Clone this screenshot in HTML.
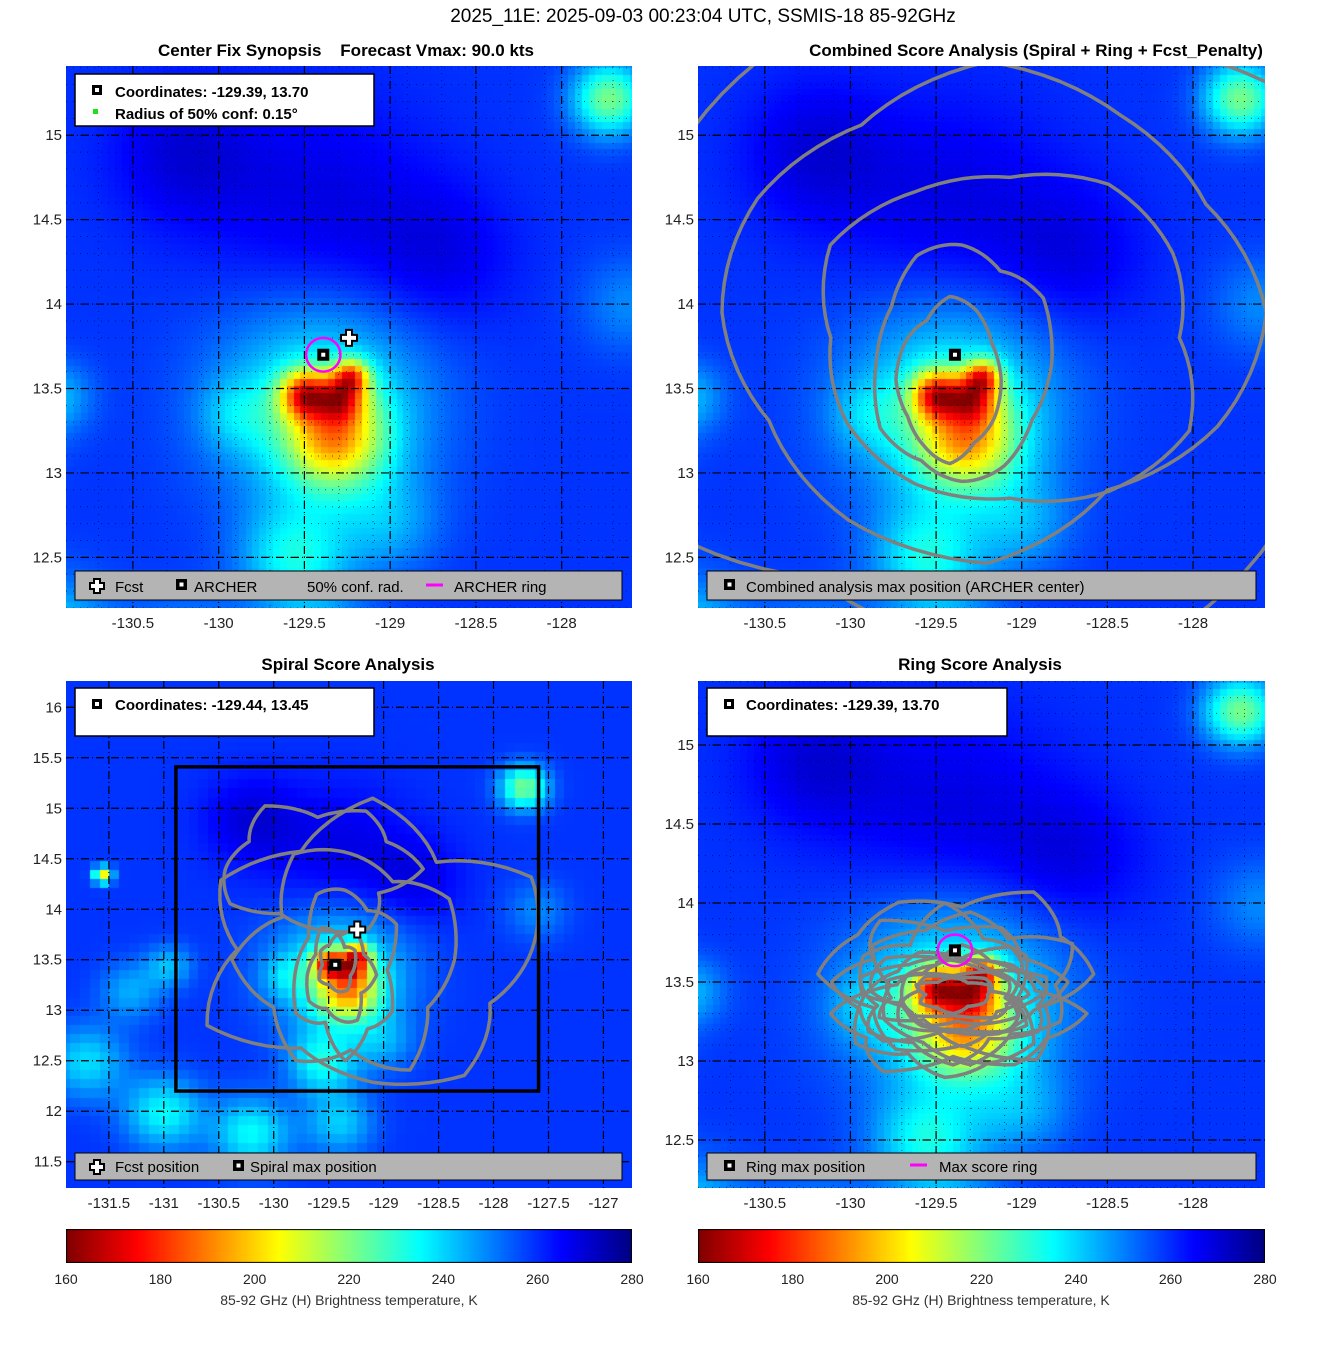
<!DOCTYPE html>
<html><head><meta charset="utf-8">
<style>
body{margin:0;background:#fff;width:1317px;height:1350px;overflow:hidden;position:relative;font-family:"Liberation Sans","DejaVu Sans",sans-serif;}
canvas{position:absolute;}
#ov{position:absolute;left:0;top:0;}
</style></head>
<body>
<canvas id="c1" style="left:66px;top:66px" width="566" height="542"></canvas>
<canvas id="c2" style="left:698px;top:66px" width="567" height="542"></canvas>
<canvas id="c3" style="left:66px;top:681px" width="566" height="507"></canvas>
<canvas id="c4" style="left:698px;top:681px" width="567" height="507"></canvas>
<canvas id="cb1" style="left:66px;top:1229px" width="566" height="34"></canvas>
<canvas id="cb2" style="left:698px;top:1229px" width="567" height="34"></canvas>
<svg id="ov" width="1317" height="1350" xmlns="http://www.w3.org/2000/svg" font-family="Liberation Sans, DejaVu Sans, sans-serif">
<text x="703" y="22" font-size="19" text-anchor="middle">2025_11E: 2025-09-03 00:23:04 UTC, SSMIS-18 85-92GHz</text>
<text x="346" y="56" font-size="17" font-weight="bold" text-anchor="middle" xml:space="preserve">Center Fix Synopsis    Forecast Vmax: 90.0 kts</text>
<text x="1036" y="56" font-size="17" font-weight="bold" text-anchor="middle">Combined Score Analysis (Spiral + Ring + Fcst_Penalty)</text>
<text x="348" y="670" font-size="17" font-weight="bold" text-anchor="middle">Spiral Score Analysis</text>
<text x="980" y="670" font-size="17" font-weight="bold" text-anchor="middle">Ring Score Analysis</text>
<g id="layer"></g>
<g id="legends">
 <g>
  <rect x="75" y="74" width="299" height="52" fill="#fff" stroke="#000" stroke-width="1.5"/>
  <rect x="92" y="85" width="10" height="10" fill="#000"/><rect x="95" y="88" width="4" height="4" fill="#fff"/>
  <text x="115" y="97" font-size="15" font-weight="bold">Coordinates: -129.39, 13.70</text>
  <rect x="93" y="109" width="5" height="5" fill="#1de01d"/>
  <text x="115" y="119" font-size="15" font-weight="bold">Radius of 50% conf: 0.15°</text>
 </g>
 <g>
  <rect x="75" y="571" width="547" height="29" fill="#b4b4b4" stroke="#000" stroke-width="1"/>
  <path d="M94 579h6v4h4v6h-4v4h-6v-4h-4v-6h4z" fill="#fff" stroke="#000" stroke-width="2"/>
  <text x="115" y="592" font-size="15">Fcst</text>
  <rect x="176" y="579" width="11" height="11" fill="#000"/><rect x="179.5" y="582.5" width="4" height="4" fill="#fff"/>
  <text x="194" y="592" font-size="15">ARCHER</text>
  <text x="307" y="592" font-size="15">50% conf. rad.</text>
  <line x1="426" y1="585" x2="443" y2="585" stroke="#ff00ff" stroke-width="3"/>
  <text x="454" y="592" font-size="15">ARCHER ring</text>
 </g>
 <g>
  <rect x="707" y="571" width="549" height="29" fill="#b4b4b4" stroke="#000" stroke-width="1"/>
  <rect x="724" y="579" width="11" height="11" fill="#000"/><rect x="727.5" y="582.5" width="4" height="4" fill="#fff"/>
  <text x="746" y="592" font-size="15">Combined analysis max position (ARCHER center)</text>
 </g>
 <g>
  <rect x="75" y="688" width="299" height="48" fill="#fff" stroke="#000" stroke-width="1.5"/>
  <rect x="92" y="699" width="10" height="10" fill="#000"/><rect x="95" y="702" width="4" height="4" fill="#fff"/>
  <text x="115" y="710" font-size="15" font-weight="bold">Coordinates: -129.44, 13.45</text>
 </g>
 <g>
  <rect x="75" y="1153" width="547" height="27" fill="#b4b4b4" stroke="#000" stroke-width="1"/>
  <path d="M94 1160h6v4h4v6h-4v4h-6v-4h-4v-6h4z" fill="#fff" stroke="#000" stroke-width="2"/>
  <text x="115" y="1172" font-size="15">Fcst position</text>
  <rect x="233" y="1160" width="11" height="11" fill="#000"/><rect x="236.5" y="1163.5" width="4" height="4" fill="#fff"/>
  <text x="250" y="1172" font-size="15">Spiral max position</text>
 </g>
 <g>
  <rect x="707" y="688" width="300" height="48" fill="#fff" stroke="#000" stroke-width="1.5"/>
  <rect x="724" y="699" width="10" height="10" fill="#000"/><rect x="727" y="702" width="4" height="4" fill="#fff"/>
  <text x="746" y="710" font-size="15" font-weight="bold">Coordinates: -129.39, 13.70</text>
 </g>
 <g>
  <rect x="707" y="1153" width="549" height="27" fill="#b4b4b4" stroke="#000" stroke-width="1"/>
  <rect x="724" y="1160" width="11" height="11" fill="#000"/><rect x="727.5" y="1163.5" width="4" height="4" fill="#fff"/>
  <text x="746" y="1172" font-size="15">Ring max position</text>
  <line x1="910" y1="1165" x2="927" y2="1165" stroke="#ff00ff" stroke-width="3"/>
  <text x="939" y="1172" font-size="15">Max score ring</text>
 </g>
</g>
<text x="349" y="1305" font-size="14" text-anchor="middle" fill="#333">85-92 GHz (H) Brightness temperature, K</text>
<text x="981" y="1305" font-size="14" text-anchor="middle" fill="#333">85-92 GHz (H) Brightness temperature, K</text>
</svg>
<script>
// ---- data ----
const blobLon = [-129.5,-129.28,-129.22,-129.32,-129.4,-129.9,-127.72,-129.55,-129.0,-130.95,-129.4,-130.2,-128.7,-131.55,-131.7,-131.0,-130.2,-129.4,-131.3,-127.6];
const blobLat = [13.47,13.45,13.58,13.2,13.4,13.35,15.22,12.5,12.7,13.45,14.6,14.9,14.3,14.35,12.5,12.0,11.8,11.9,13.2,14.0];
const blobR   = [0.1,0.1,0.07,0.2,0.42,0.15,0.15,0.22,0.2,0.15,0.45,0.3,0.3,0.06,0.25,0.25,0.25,0.22,0.2,0.2];
const blobAmp = [-52,-42,-42,-45,-28,-10,-38,-24,-12,-16,9,10,8,-55,-20,-24,-24,-18,-14,-10];
const baseTb = 259;
const cbTicks = [160,180,200,220,240,260,280];
const p1XTicks = [-130.5,-130,-129.5,-129,-128.5,-128];
const p1YTicks = [12.5,13,13.5,14,14.5,15];
const p3XTicks = [-131.5,-131,-130.5,-130,-129.5,-129,-128.5,-128,-127.5,-127];
const p3YTicks = [11.5,12,12.5,13,13.5,14,14.5,15,15.5,16];
const fcstPos = [-129.24,13.80];
const archerPos = [-129.39,13.70];
const spiralPos = [-129.44,13.45];
const ringRadius = 0.1;
// contour loops: centre lon, centre lat, rx, ry (deg) + radial wobble
const c2Lon = [-129.42,-129.35,-129.07,-129.2,-129.2];
const c2Lat = [13.55,13.65,13.8,13.95,13.9];
const c2Rx = [0.3,0.5,1.1,1.55,2.25];
const c2Ry = [0.45,0.7,1.0,1.35,1.95];
const wob2 = [1,0.95,1.05,1.1,0.9,1,1.05,0.95,1,1.1,0.95,1];
const c3Lon = [-129.42,-129.4,-129.35,-129.3,-129.1,-129.6];
const c3Lat = [13.45,13.35,13.4,13.5,13.6,14.4];
const c3Rx = [0.16,0.28,0.45,0.9,1.45,0.8];
const c3Ry = [0.25,0.45,0.75,1.05,1.25,0.6];
const wob3 = [1,1.15,0.8,1.2,0.9,1.1,0.85,1.2,0.9,1.05,1.15,0.85];
const c4Lon = [-129.4,-129.38,-129.42,-129.35,-129.4,-129.45,-129.35,-129.4,-129.3,-129.4,-129.45,-129.35];
const c4Lat = [13.42,13.38,13.4,13.45,13.35,13.5,13.4,13.42,13.48,13.3,13.4,13.55];
const c4Rx = [0.2,0.3,0.38,0.45,0.52,0.6,0.35,0.42,0.55,0.65,0.5,0.7];
const c4Ry = [0.1,0.15,0.2,0.25,0.3,0.36,0.28,0.14,0.42,0.34,0.48,0.5];
const wob4 = [1,1.2,0.85,1.1,0.9,1.25,0.8,1.1,0.95,1.2,0.85,1.05];

function Tb(lon,lat){let t=baseTb;for(let i=0;i<blobLon.length;i++){const dx=lon-blobLon[i],dy=lat-blobLat[i];t+=blobAmp[i]*Math.exp(-(dx*dx+dy*dy)/(2*blobR[i]*blobR[i]));}return Math.max(160,Math.min(280,t));}
function jet(T){const t=(280-T)/120;const c=v=>Math.round(255*Math.max(0,Math.min(1,v)));return `rgb(${c(1.5-Math.abs(4*t-3))},${c(1.5-Math.abs(4*t-2))},${c(1.5-Math.abs(4*t-1))})`;}

const panels=[
 {c:'c1',x0:66,y0:66,w:566,h:542,lon0:-130.89,lon1:-127.59,lat0:12.2,lat1:15.41,cell:0.04,xt:p1XTicks,yt:p1YTicks,name:'p1'},
 {c:'c2',x0:698,y0:66,w:567,h:542,lon0:-130.89,lon1:-127.58,lat0:12.2,lat1:15.41,cell:0.04,xt:p1XTicks,yt:p1YTicks,name:'p2'},
 {c:'c3',x0:66,y0:681,w:566,h:507,lon0:-131.89,lon1:-126.74,lat0:11.24,lat1:16.26,cell:0.09,xt:p3XTicks,yt:p3YTicks,name:'p3'},
 {c:'c4',x0:698,y0:681,w:567,h:507,lon0:-130.89,lon1:-127.58,lat0:12.196,lat1:15.405,cell:0.04,xt:p1XTicks,yt:p1YTicks,name:'p4'}];
const X=(p,lon)=>p.x0+(lon-p.lon0)/(p.lon1-p.lon0)*p.w;
const Y=(p,lat)=>p.y0+(p.lat1-lat)/(p.lat1-p.lat0)*p.h;
const NS='http://www.w3.org/2000/svg';
const layer=document.getElementById('layer');
function mk(tag,attrs,parent){const e=document.createElementNS(NS,tag);for(const k in attrs)e.setAttribute(k,attrs[k]);(parent||layer).appendChild(e);return e;}

panels.forEach((p,pi)=>{
 const ctx=document.getElementById(p.c).getContext('2d');
 for(let lon=Math.floor(p.lon0/p.cell)*p.cell;lon<p.lon1;lon+=p.cell){
  for(let lat=Math.floor(p.lat0/p.cell)*p.cell;lat<p.lat1;lat+=p.cell){
   ctx.fillStyle=jet(Tb(lon+p.cell/2,lat+p.cell/2));
   const x=X(p,lon)-p.x0,y=Y(p,lat+p.cell)-p.y0;
   ctx.fillRect(Math.floor(x),Math.floor(y),Math.ceil(X(p,lon+p.cell)-X(p,lon))+1,Math.ceil(Y(p,lat)-Y(p,lat+p.cell))+1);
  }}
 const g=mk('g',{});
 
 
 const cp=mk('clipPath',{id:'clip'+pi},g);mk('rect',{x:p.x0,y:p.y0,width:p.w,height:p.h},cp);
 const gg=mk('g',{'clip-path':`url(#clip${pi})`},g);
 if(pi!==2){
  for(let v=-131.1;v<-127.4;v+=0.2){const x=X(p,v);const l=mk('line',{x1:x,x2:x,y1:p.y0,y2:p.y0+p.h,stroke:'#000','stroke-width':1,'stroke-dasharray':'1,6',opacity:0.6},gg);
   
   }
  for(let v=12.2;v<15.5;v+=0.1){const y=Y(p,v);const l=mk('line',{x1:p.x0,x2:p.x0+p.w,y1:y,y2:y,stroke:'#000','stroke-width':1,'stroke-dasharray':'1,6',opacity:0.6},gg);
   
   }
 }
 p.xt.forEach(v=>{const x=X(p,v);
  const l=mk('line',{x1:x,x2:x,y1:p.y0,y2:p.y0+p.h,stroke:'#000','stroke-width':1.2,'stroke-dasharray':'8,3,1,3'},gg);
  
  
  const t=mk('text',{x:x,y:p.y0+p.h+20,'font-size':15,'text-anchor':'middle',fill:'#222'},g);t.textContent=v;
  
  });
 p.yt.forEach(v=>{const y=Y(p,v);
  const l=mk('line',{x1:p.x0,x2:p.x0+p.w,y1:y,y2:y,stroke:'#000','stroke-width':1.2,'stroke-dasharray':'8,3,1,3'},gg);
  
  
  const t=mk('text',{x:p.x0-4,y:y+5,'font-size':15,'text-anchor':'end',fill:'#222'},g);t.textContent=v;
  
  });
 p.gg=gg;
});

function loop(p,cx,cy,rx,ry,wob,phase){let d='';const n=wob.length;
 for(let k=0;k<=96;k++){const a=k/96*2*Math.PI;const f=(k/96*n+phase)%n;const i=Math.floor(f),fr=f-i;const m=wob[i]*(1-fr)+wob[(i+1)%n]*fr;
  d+=(k?'L':'M')+X(p,cx+rx*m*Math.cos(a)).toFixed(1)+' '+Y(p,cy+ry*m*Math.sin(a)).toFixed(1);}
 const e=mk('path',{d:d+'Z',fill:'none',stroke:'#808080','stroke-width':3.5,'stroke-linejoin':'round'},p.gg);
 
 }
c2Lon.forEach((v,i)=>loop(panels[1],v,c2Lat[i],c2Rx[i],c2Ry[i],wob2,i*2));
c3Lon.forEach((v,i)=>loop(panels[2],v,c3Lat[i],c3Rx[i],c3Ry[i],wob3,i*3));
c4Lon.forEach((v,i)=>loop(panels[3],v,c4Lat[i],c4Rx[i],c4Ry[i],wob4,i*5));

{const p=panels[2];const b=mk('rect',{x:X(p,panels[0].lon0),y:Y(p,panels[0].lat1),width:X(p,panels[0].lon1)-X(p,panels[0].lon0),height:Y(p,panels[0].lat0)-Y(p,panels[0].lat1),fill:'none',stroke:'#000','stroke-width':3.5},p.gg);
 
 }

function sq(p,pos,nm){const x=X(p,pos[0]),y=Y(p,pos[1]);
 const r=mk('rect',{x:x-6,y:y-6,width:12,height:12,fill:'#000'},p.gg);
 
 
 mk('rect',{x:x-2,y:y-2,width:4,height:4,fill:'#fff'},p.gg);}
function plus(p,pos){const x=X(p,pos[0]),y=Y(p,pos[1]);
 const e=mk('path',{d:`M${x-3} ${y-8}h6v5h5v6h-5v5h-6v-5h-5v-6h5z`,fill:'#fff',stroke:'#000','stroke-width':2},p.gg);
 
 }
function ring(p,pos){const e=mk('ellipse',{cx:X(p,pos[0]),cy:Y(p,pos[1]),rx:ringRadius*p.w/(p.lon1-p.lon0),ry:ringRadius*p.h/(p.lat1-p.lat0),fill:'none',stroke:'#ff00ff','stroke-width':2.5},p.gg);
 
 }
ring(panels[0],archerPos);plus(panels[0],fcstPos);sq(panels[0],archerPos,'archer-marker');
sq(panels[1],archerPos,'combined-max-marker');
plus(panels[2],fcstPos);sq(panels[2],spiralPos,'spiral-max-marker');
ring(panels[3],archerPos);sq(panels[3],archerPos,'ring-max-marker');

[['cb1',66,566],['cb2',698,567]].forEach(([id,x0,w])=>{
 const ctx=document.getElementById(id).getContext('2d');
 for(let i=0;i<w;i++){ctx.fillStyle=jet(160+120*i/w);ctx.fillRect(i,0,1,34);}
 ctx.strokeStyle='#000';ctx.strokeRect(0.5,0.5,w-1,33);
 cbTicks.forEach(v=>{const x=x0+(v-160)/120*w;
  const t=mk('text',{x:x,y:1284,'font-size':14,'text-anchor':'middle',fill:'#222'});t.textContent=v;
  
  });
});
</script>
</body></html>
